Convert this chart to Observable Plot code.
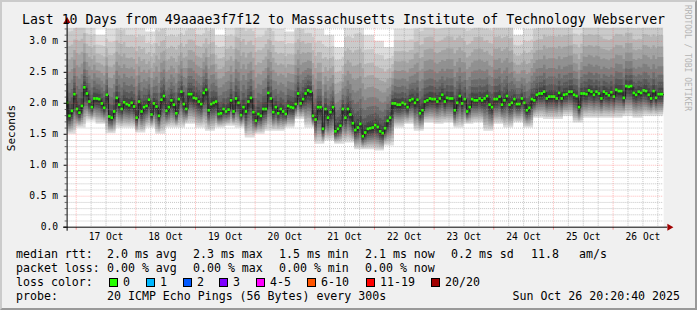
<!DOCTYPE html>
<html><head><meta charset="utf-8">
<script src="https://cdn.jsdelivr.net/npm/d3@7"></script>
<script src="https://cdn.jsdelivr.net/npm/@observablehq/plot@0.6"></script>
<style>
html,body{margin:0;padding:0;background:#fff;}
#chart{position:relative;width:697px;height:310px;box-sizing:border-box;background:#f0f0f0;
  border-top:2px solid #cbcbcb;border-left:2px solid #cbcbcb;border-right:2px solid #999;border-bottom:2px solid #999;overflow:hidden;}
#chart > svg{position:absolute;left:-2px;top:-2px;}
</style></head>
<body><div id="chart"></div>
<script>
// ---------- data ----------
const titleText = "Last 10 Days from 49aaae3f7f12 to Massachusetts Institute of Technology Webserver";
const yAxisLabel = "Seconds";
// hourly median rtt (ms), from 16 Oct 20:00 UTC onward
const medianRtt = [
2.00,1.79,1.87,2.14,1.90,1.84,1.95,2.25,2.15,2.02,
1.93,2.07,2.07,2.06,1.99,1.92,2.13,1.78,1.76,1.86,
2.08,1.97,1.90,2.01,1.98,1.96,2.00,1.94,1.76,2.02,
1.86,1.93,1.95,2.05,1.81,1.99,1.94,1.79,2.05,2.11,
1.87,1.93,2.04,1.97,1.83,2.06,2.18,1.98,1.90,2.14,
2.14,2.08,2.07,2.02,1.98,2.16,2.21,1.88,1.98,2.00,
2.02,
1.82,1.83,1.90,1.86,1.89,2.04,1.86,2.07,2.00,1.80,
1.93,1.86,2.02,2.08,1.85,1.71,1.82,1.79,1.90,1.90,
2.16,2.07,1.85,1.93,1.83,1.90,1.86,1.82,1.95,1.93,
1.92,1.98,2.15,1.99,2.06,2.15,2.20,2.18,1.79,1.73,
1.93,1.93,1.58,1.90,1.76,1.85,1.93,1.54,1.58,1.63,
1.90,1.76,1.90,1.81,1.67,1.56,1.60,1.66,1.46,1.52,
1.58,1.59,1.60,1.64,1.61,1.54,1.51,1.59,1.71,1.76,
1.99,1.99,1.97,1.97,2.00,1.98,1.93,2.04,2.06,2.00,
2.05,1.83,1.88,2.02,2.04,2.07,2.06,2.06,2.02,2.07,
2.13,2.02,2.08,2.07,2.07,1.88,2.00,2.11,1.99,2.06,
1.86,1.93,2.06,2.04,2.04,2.07,2.04,2.07,2.11,1.97,
1.93,2.06,2.06,2.10,1.97,2.04,2.11,1.97,2.00,2.06,
1.98,1.98,2.07,2.00,1.88,1.92,2.06,2.04,2.13,2.15,
2.15,2.18,2.07,2.10,2.10,2.10,2.07,2.16,2.07,2.13,
2.14,2.18,2.18,2.13,2.11,1.93,2.15,2.15,2.14,2.20,
2.18,2.13,2.18,2.15,2.07,2.18,2.15,2.12,2.17,2.10,
2.21,2.19,2.19,2.08,2.27,2.26,2.27,2.16,2.13,2.18,
2.16,2.20,2.19,2.13,2.07,2.19,2.08,2.14,2.14
];
// smoke extent per 4-hour block: lowest ping and highest ping (ms)
const smokeLow = [
1.50,1.60,1.71,1.66,1.51,1.60,1.60,1.52,1.60,1.50,
1.60,1.60,1.66,1.60,1.55,1.60,1.63,1.60,1.44,1.50,
1.55,1.55,1.60,1.74,1.60,1.34,1.39,1.34,1.36,1.25,
1.25,1.23,1.31,1.60,1.66,1.55,1.68,1.66,1.68,1.60,
1.66,1.68,1.55,1.66,1.60,1.68,1.60,1.76,1.74,1.74,
1.79,1.68,1.76,1.76,1.76,1.76,1.79,1.76,1.79,1.79
];
const smokeHigh = [
3.4,3.5,3.3,3.1,3.2,3.4,3.3,3.3,3.15,3.4,
3.3,3.3,3.4,3.3,3.4,3.1,3.3,3.5,3.4,3.3,
3.4,3.2,3.15,3.4,3.3,3.2,3.1,2.9,3.3,3.4,
3.1,3.0,2.9,3.2,3.2,3.4,3.5,3.4,3.5,3.5,
3.4,3.5,3.4,3.5,3.5,3.1,3.2,3.4,3.5,3.5,
3.5,3.3,3.5,3.5,3.4,3.5,3.5,3.4,3.5,3.5
];
const xTickLabels = ["17 Oct","18 Oct","19 Oct","20 Oct","21 Oct","22 Oct","23 Oct","24 Oct","25 Oct","26 Oct"];
const yTickValues = [0,0.5,1.0,1.5,2.0,2.5,3.0];
const yTickLabels = ["0.0","0.5 m","1.0 m","1.5 m","2.0 m","2.5 m","3.0 m"];
const medianLabel = "median rtt:";
const medianStats = ["2.0 ms avg","2.3 ms max","1.5 ms min","2.1 ms now","0.2 ms sd"];
const medianExtra = ["11.8","am/s"];
const lossLabel = "packet loss:";
const lossStats = ["0.00 % avg","0.00 % max","0.00 % min","0.00 % now"];
const lossColorLabel = "loss color:";
const lossLabels = ["0","1","2","3","4-5","6-10","11-19","20/20"];
const lossColors = ["#26ff00","#00b8ff","#0059ff","#7e00ff","#ff00ff","#ff5500","#ff0000","#a10000"];
const probeLabel = "probe:";
const probeText = "20 ICMP Echo Pings (56 Bytes) every 300s";
const stampText = "Sun Oct 26 20:20:40 2025";
const watermark = "RRDTOOL / TOBI OETIKER";

// ---------- derived ----------
const H = 3600e3;
const end = new Date(Date.UTC(2025, 9, 26, 20, 20, 40));
const start = new Date(+end - 10 * 24 * H);
const firstBin = Date.UTC(2025, 9, 16, 20, 0, 0);
const yTop = 3.21;

const rows = medianRtt.map((m, i) => ({
  t: new Date(Math.max(firstBin + i * H, +start)),
  t1: new Date(Math.min(firstBin + (i + 1) * H, +end)),
  med: m,
  lo: Math.min(smokeLow[i >> 2], m - 0.12),
  hi: smokeHigh[i >> 2]
}));
rows[rows.length - 1].t1 = end;
const stepPts = rows.concat([{...rows[rows.length - 1], t: end}]);

const layers = d3.range(1, 11).map(i => ({
  gray: Math.floor(190 / 10 * (10 - i)) + 50,
  a: Math.pow((11 - i) / 10, 0.85),
  b: Math.pow((11 - i) / 10, 1.6)
}));

const majorTimes = d3.utcDay.range(start, end);
const minorTimes = d3.utcHour.every(6).range(start, end).filter(d => d.getUTCHours() !== 0);
const noonTimes = majorTimes.map(d => new Date(+d + 12 * H));
const noonLabel = new Map(noonTimes.map((d, i) => [+d, xTickLabels[i]]));
const minorVals = d3.range(1, 33).map(k => k / 10).filter(v => v < yTop && Math.abs(v * 2 - Math.round(v * 2)) > 1e-6);
const majorVals = yTickValues.slice(1);

const gridColor = "rgba(140,140,140,0.5)";
const mgridColor = "rgba(255,90,90,0.42)";

const plot = Plot.plot({
  width: 697, height: 310,
  marginLeft: 67, marginRight: 30, marginTop: 28, marginBottom: 82,
  style: {background: "transparent", fontFamily: "'DejaVu Sans Mono', monospace", fontSize: "9.7px", color: "#000", overflow: "visible"},
  x: {type: "utc", domain: [start, end]},
  y: {domain: [0, yTop]},
  marks: [
    Plot.frame({fill: "#ffffff", stroke: null}),
    ...layers.map(L => Plot.areaY(stepPts, {
      x: "t",
      y1: d => d.med - (d.med - d.lo) * L.a,
      y2: d => Math.min(d.med + (d.hi - d.med) * L.b, yTop),
      curve: "step-after",
      fill: d3.rgb(L.gray, L.gray, L.gray).formatHex()
    })),
    Plot.line(stepPts, {x: "t", y: "med", curve: "step-after", stroke: "#202020", strokeWidth: 1}),
    Plot.rect(rows, {x1: "t", x2: "t1", y1: d => d.med - 0.022, y2: d => d.med + 0.022, fill: lossColors[0], inset: 0}),
    Plot.ruleX(minorTimes, {stroke: gridColor, strokeDasharray: "1,1"}),
    Plot.ruleY(minorVals, {stroke: gridColor, strokeDasharray: "1,1"}),
    Plot.ruleX(majorTimes, {stroke: mgridColor, strokeDasharray: "1,1"}),
    Plot.ruleY(majorVals, {stroke: mgridColor, strokeDasharray: "1,1"}),
    Plot.axisY({ticks: minorVals, tickSize: 2, tickFormat: () => "", label: null, stroke: "#666"}),
    Plot.axisY({ticks: yTickValues, tickSize: 3, tickPadding: 6, tickFormat: (d) => yTickLabels[yTickValues.indexOf(d)], label: null}),
    Plot.axisX({ticks: majorTimes, tickSize: 3, tickFormat: () => "", label: null, stroke: "rgba(255,80,80,0.6)"}),
    Plot.axisX({ticks: noonTimes, tickSize: 0, tickPadding: 6, tickFormat: d => noonLabel.get(+d), label: null}),
    Plot.ruleY([0], {x1: new Date(+start - 1.4 * H), x2: new Date(+end + 1.6 * H), stroke: "#000"}),
    Plot.ruleX([start], {y1: -0.065, y2: 3.31, stroke: "#000"}),
    Plot.dot([{t: new Date(+end + 2.3 * H), v: 0}], {x: "t", y: "v", symbol: "triangle", r: 2.6, fill: "#a00000", stroke: null, rotate: 90}),
    Plot.dot([{t: start, v: 3.33}], {x: "t", y: "v", symbol: "triangle", r: 2.6, fill: "#a00000", stroke: null})
  ]
});
document.getElementById("chart").appendChild(plot);

// ---------- title, legend, labels ----------
const ov = d3.select("#chart").append("svg").attr("width", 697).attr("height", 310)
  .style("font-family", "'DejaVu Sans Mono', monospace").attr("fill", "#000");
ov.append("text").attr("x", 343.5).attr("y", 24).attr("text-anchor", "middle").style("font-size", "13.2px").text(titleText);
ov.append("text").attr("transform", "translate(15,128) rotate(-90)").attr("text-anchor", "middle").style("font-size", "11px").text(yAxisLabel);
ov.append("text").attr("transform", "translate(685,5) rotate(90)").style("font-size", "8px").attr("fill", "#b4b4b4").text(watermark);

const lg = ov.append("g").style("font-size", "11.6px");
const col = [107, 193, 279, 365, 451];
const rowY = [258, 272, 286, 300];
lg.append("text").attr("x", 16).attr("y", rowY[0]).text(medianLabel);
medianStats.forEach((s, i) => lg.append("text").attr("x", col[i]).attr("y", rowY[0]).text(s));
lg.append("text").attr("x", 531).attr("y", rowY[0]).text(medianExtra[0]);
lg.append("text").attr("x", 579).attr("y", rowY[0]).text(medianExtra[1]);
lg.append("text").attr("x", 16).attr("y", rowY[1]).text(lossLabel);
lossStats.forEach((s, i) => lg.append("text").attr("x", col[i]).attr("y", rowY[1]).text(s));
lg.append("text").attr("x", 16).attr("y", rowY[2]).text(lossColorLabel);
const sqX = [109, 146, 183, 219, 256, 307, 366, 431];
lossLabels.forEach((s, i) => {
  lg.append("rect").attr("x", sqX[i] + 0.5).attr("y", 278.5).attr("width", 8).attr("height", 8)
    .attr("fill", lossColors[i]).attr("stroke", "#000").attr("stroke-width", 1);
  lg.append("text").attr("x", sqX[i] + 14).attr("y", rowY[2]).text(s);
});
lg.append("text").attr("x", 16).attr("y", rowY[3]).text(probeLabel);
lg.append("text").attr("x", 107).attr("y", rowY[3]).text(probeText);
lg.append("text").attr("x", 680).attr("y", rowY[3]).attr("text-anchor", "end").text(stampText);
</script>
</body></html>
